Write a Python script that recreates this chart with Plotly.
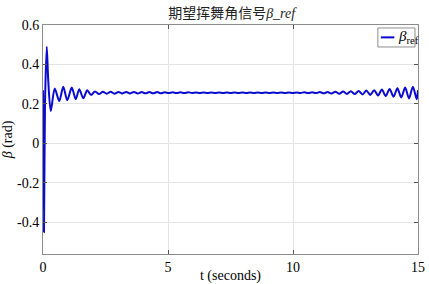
import plotly.graph_objects as go

# Time (s) and beta_ref (rad), at turning points of the oscillation
t_vals = [0.0, 0.04, 0.08, 0.15, 0.21, 0.31, 0.47, 0.65, 0.81, 0.97, 1.15, 1.31, 1.45, 1.61,
          1.77, 1.92, 2.08, 2.24, 2.395, 2.55, 2.705, 2.86, 3.015, 3.17, 3.325, 3.48, 3.635,
          3.79, 3.945, 4.10, 4.255, 4.41, 4.565, 4.72, 4.875, 5.03, 5.185, 5.34, 5.495, 5.65,
          5.805, 5.96, 6.115, 6.27, 6.425, 6.58, 6.735, 6.89, 7.045, 7.20, 7.355, 7.51, 7.665,
          7.82, 7.975, 8.13, 8.285, 8.44, 8.595, 8.75, 8.905, 9.06, 9.215, 9.37, 9.525, 9.68,
          9.835, 9.99, 10.145, 10.30, 10.455, 10.61, 10.765, 10.92, 11.075, 11.23, 11.385,
          11.54, 11.695, 11.85, 12.005, 12.16, 12.315, 12.47, 12.625, 12.78, 12.935, 13.09,
          13.245, 13.40, 13.555, 13.71, 13.865, 14.02, 14.175, 14.33, 14.485, 14.64, 14.795,
          14.95, 15.0]
beta_vals = [0.27, -0.45, 0.20, 0.49, 0.318, 0.164, 0.278, 0.215, 0.287, 0.219, 0.283, 0.224,
             0.275, 0.229, 0.270, 0.246, 0.263, 0.250, 0.262, 0.252, 0.262, 0.252, 0.261,
             0.253, 0.261, 0.253, 0.261, 0.253, 0.260, 0.254, 0.260, 0.254, 0.260, 0.254,
             0.259, 0.255, 0.259, 0.255, 0.259, 0.255, 0.259, 0.256, 0.258, 0.256, 0.258,
             0.256, 0.258, 0.256, 0.258, 0.256, 0.258, 0.256, 0.258, 0.256, 0.258, 0.256,
             0.258, 0.256, 0.258, 0.256, 0.258, 0.256, 0.258, 0.256, 0.258, 0.256, 0.258,
             0.256, 0.258, 0.256, 0.259, 0.255, 0.259, 0.255, 0.260, 0.254, 0.260, 0.253,
             0.262, 0.252, 0.263, 0.251, 0.264, 0.250, 0.266, 0.248, 0.268, 0.246, 0.270,
             0.243, 0.273, 0.240, 0.276, 0.237, 0.279, 0.233, 0.283, 0.228, 0.287, 0.224,
             0.27]

x_ticks = [0, 5, 10, 15]
y_ticks = [-0.4, -0.2, 0, 0.2, 0.4, 0.6]
y_tick_text = ["-0.4", "-0.2", "0", "0.2", "0.4", "0.6"]
legend_label = "<i>β</i><sub>ref</sub>"
line_color = "#0b0bd0"

serif = "Liberation Serif, Times New Roman, serif"

fig = go.Figure()
fig.add_trace(go.Scatter(
    x=t_vals, y=beta_vals, mode="lines",
    line=dict(color=line_color, width=2, shape="spline", smoothing=0.8),
    name=legend_label, showlegend=False, hoverinfo="skip",
))

axis_common = dict(
    showline=True, linecolor="#8c8c8c", linewidth=1, mirror="ticks",
    ticks="inside", ticklen=4, tickcolor="#555555",
    showgrid=True, gridcolor="#e3e3e3", gridwidth=1,
    zeroline=False, automargin=False,
    tickfont=dict(family=serif, size=14, color="black"),
)

# compact MATLAB-style legend box drawn in paper coordinates
fig.add_shape(type="rect", xref="paper", yref="paper",
              x0=0.893, x1=0.992, y0=0.904, y1=0.987,
              line=dict(color="#8c8c8c", width=1), fillcolor="white", layer="above")
fig.add_shape(type="line", xref="paper", yref="paper",
              x0=0.901, x1=0.937, y0=0.946, y1=0.946,
              line=dict(color=line_color, width=2), layer="above")
fig.add_annotation(xref="paper", yref="paper", x=0.940, y=0.946,
                   xanchor="left", yanchor="middle", showarrow=False,
                   text=legend_label,
                   font=dict(family=serif, size=15, color="black"))

fig.update_layout(
    width=429, height=284,
    margin=dict(l=43, r=11, t=25, b=30),
    paper_bgcolor="white", plot_bgcolor="white",
    title=dict(
        text="<span style='font-family:Noto Sans CJK SC'>期望挥舞角信号</span><i>β_ref</i>",
        x=0.54, xanchor="center", y=0.955, yanchor="middle",
        font=dict(family=serif, size=14, color="#222222"),
    ),
    xaxis=dict(range=[0, 15], tickvals=x_ticks, ticktext=[str(v) for v in x_ticks],
               title=dict(text="t (seconds)", font=dict(family=serif, size=14, color="black"),
                          standoff=1),
               **axis_common),
    yaxis=dict(range=[-0.56, 0.6], tickvals=y_ticks, ticktext=y_tick_text,
               title=dict(text="<i>β</i> (rad)", font=dict(family=serif, size=14, color="black"),
                          standoff=2),
               **axis_common),
    showlegend=False,
)

fig.write_html(
    "out.html",
    config={"displayModeBar": False},
    post_script="document.body.style.margin='0';document.body.style.overflow='hidden';",
)
